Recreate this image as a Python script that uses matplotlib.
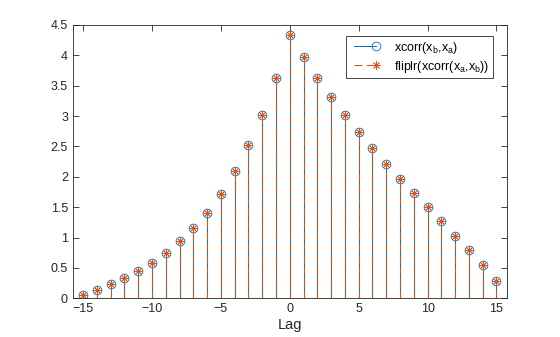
import numpy as np
import matplotlib
matplotlib.use("Agg")
import matplotlib.pyplot as plt
from matplotlib.legend_handler import HandlerLine2D
from matplotlib.ticker import FormatStrFormatter

lags = np.arange(-15, 16)
xc_ba = [0.06, 0.14, 0.23, 0.34, 0.45, 0.58, 0.75, 0.94, 1.16, 1.41, 1.72,
         2.09, 2.52, 3.01, 3.62, 4.34, 3.97, 3.62, 3.31, 3.01, 2.73, 2.47,
         2.21, 1.97, 1.73, 1.50, 1.27, 1.03, 0.79, 0.54, 0.28]
# same sequence, computed the other way round and flipped
xc_ab_flipped = list(xc_ba)

blue = "#0072BD"
orange = "#D95319"
dark = "#262626"

plt.rcParams["font.family"] = ["Liberation Sans", "DejaVu Sans"]
plt.rcParams["mathtext.fontset"] = "custom"
plt.rcParams["mathtext.rm"] = "Liberation Sans"


class EndMarkerHandler(HandlerLine2D):
    # line with the marker only at its right end
    def create_artists(self, legend, orig_handle, xdescent, ydescent,
                       width, height, fontsize, trans):
        arts = super().create_artists(legend, orig_handle, xdescent, ydescent,
                                      width, height, fontsize, trans)
        for a in arts:
            a.set_markevery([len(a.get_xdata()) - 1])
        return arts


fig = plt.figure(figsize=(5.6, 3.37), dpi=100)
ax = fig.add_axes([0.13, 0.115, 0.775, 0.811])

m1, s1, b1 = ax.stem(lags, xc_ba, basefmt=" ")
plt.setp(s1, color=blue, linewidth=0.7)
plt.setp(m1, marker="o", markersize=6.3, markerfacecolor="none",
         markeredgecolor=blue, markeredgewidth=0.6)

m2, s2, b2 = ax.stem(lags, xc_ab_flipped, basefmt=" ")
plt.setp(s2, color=orange, linewidth=0.8, linestyle=(0, (7.5, 3.0)))
plt.setp(m2, marker=(8, 2, 0), markersize=5.8, color=orange,
         markeredgecolor=orange, markeredgewidth=0.6)

h1, = ax.plot([], [], color=blue, lw=0.7, marker="o", ms=6.3,
              mfc="none", mec=blue, mew=0.6)
h2, = ax.plot([], [], color=orange, lw=0.8, ls=(0, (7, 4)),
              marker=(8, 2, 0), ms=5.8, mec=orange, mew=0.6)

ax.set_xlim(-15.75, 15.75)
ax.set_ylim(0, 4.5)
ax.set_xticks(np.arange(-15, 16, 5))
ax.set_yticks(np.arange(0, 4.51, 0.5))
ax.yaxis.set_major_formatter(FormatStrFormatter("%g"))
ax.tick_params(direction="in", length=4, width=0.6, colors=dark,
               labelsize=9, top=True, right=True)
for sp in ax.spines.values():
    sp.set_linewidth(0.6)
    sp.set_color(dark)
ax.set_xlabel("Lag", fontsize=10.5, color=dark, labelpad=2)

leg = ax.legend([h1, h2],
                [r"xcorr(x$\mathregular{_b}$,x$\mathregular{_a}$)",
                 r"fliplr(xcorr(x$\mathregular{_a}$,x$\mathregular{_b}$))"],
                handler_map={h1: EndMarkerHandler(numpoints=2),
                             h2: EndMarkerHandler(numpoints=2)},
                loc="upper right", fontsize=9, fancybox=False, framealpha=1,
                edgecolor=dark, borderpad=0.3, labelspacing=0.25,
                handlelength=2.4, handletextpad=1.1, borderaxespad=0,
                bbox_to_anchor=(0.968, 0.96))
leg.get_frame().set_linewidth(0.6)

fig.savefig("out.png", dpi=100)
